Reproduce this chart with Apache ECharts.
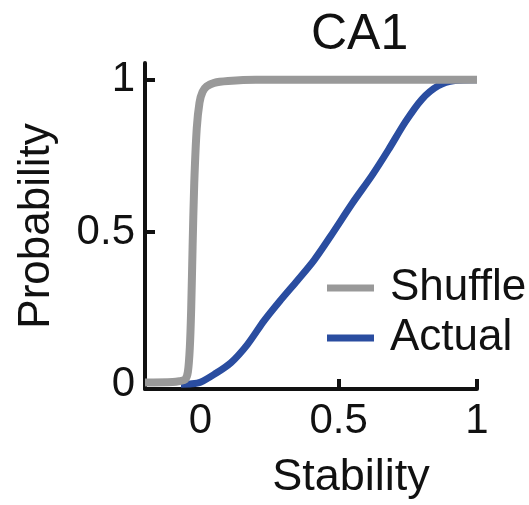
<!DOCTYPE html>
<html>
<head>
<meta charset="utf-8">
<script src="https://cdn.jsdelivr.net/npm/echarts@6/dist/echarts.min.js"></script>
<style>
  html, body {margin: 0; padding: 0; background: #fff;}
  #chart {width: 529px; height: 505px;}
</style>
</head>
<body>
<div id="chart"></div>
<script>
// CDF curves as [stability, probability]
const shuffleCurve = [
  [-0.2, 0.005], [-0.1, 0.007], [-0.075, 0.01], [-0.055, 0.015], [-0.045, 0.04],
  [-0.038, 0.12], [-0.033, 0.25], [-0.028, 0.45], [-0.022, 0.66], [-0.013, 0.84],
  [-0.003, 0.925], [0.008, 0.96], [0.023, 0.978], [0.05, 0.99], [0.1, 0.996],
  [0.2, 1.0], [0.5, 1.0], [1.0, 1.0]
]
const actualCurve = [
  [-0.07, 0.0], [-0.03, 0.001], [0.0, 0.006], [0.05, 0.032], [0.11, 0.07],
  [0.17, 0.13], [0.23, 0.208], [0.29, 0.276], [0.35, 0.34], [0.41, 0.406],
  [0.47, 0.485], [0.55, 0.595], [0.62, 0.685], [0.68, 0.77], [0.74, 0.86],
  [0.8, 0.935], [0.86, 0.98], [0.92, 0.997], [1.0, 1.0]
]
const seriesNames = ['Shuffle', 'Actual']
const xTickLabels = [0, 0.5, 1]
const yTickLabels = [0, 0.5, 1]
const tickMarks = [0.5, 1]

const font = 'Liberation Sans, Arial, sans-serif'
const ink = '#111'

const chart = echarts.init(document.getElementById('chart'))
chart.setOption({
  backgroundColor: '#fff',
  animation: false,
  title: {
    text: 'CA1',
    left: 306,
    top: 5,
    textStyle: {fontFamily: font, fontSize: 50, fontWeight: 'normal', color: ink}
  },
  legend: {
    data: seriesNames,
    orient: 'vertical',
    left: 322,
    top: 261,
    icon: 'rect',
    itemWidth: 47,
    itemHeight: 7,
    itemGap: 6,
    textStyle: {fontFamily: font, fontSize: 44, color: ink, padding: [0, 0, 0, 11]}
  },
  grid: {left: 145, right: 52, top: 63, bottom: 113},
  xAxis: {
    type: 'value',
    min: -0.2,
    max: 1,
    name: 'Stability',
    nameLocation: 'middle',
    nameGap: 66,
    nameTextStyle: {fontFamily: font, fontSize: 45, color: ink, padding: [0, 0, 0, 80]},
    axisLine: {show: true, onZero: false, lineStyle: {color: ink, width: 4}},
    axisTick: {show: true, inside: true, length: 10, customValues: tickMarks, lineStyle: {color: ink, width: 4}},
    axisLabel: {customValues: xTickLabels, margin: 11, fontFamily: font, fontSize: 42, color: ink},
    splitLine: {show: false}
  },
  yAxis: {
    type: 'value',
    min: -0.016,
    max: 1.055,
    name: 'Probability',
    nameLocation: 'middle',
    nameGap: 86,
    nameTextStyle: {fontFamily: font, fontSize: 44, color: ink},
    axisLine: {show: true, onZero: false, lineStyle: {color: ink, width: 4}},
    axisTick: {show: true, inside: true, length: 10, customValues: tickMarks, lineStyle: {color: ink, width: 4}},
    axisLabel: {customValues: yTickLabels, margin: 10, fontFamily: font, fontSize: 42, color: ink},
    splitLine: {show: false}
  },
  series: [
    {
      name: 'Actual',
      type: 'line',
      data: actualCurve,
      symbol: 'none',
      smooth: 0.3,
      color: '#2a4da0',
      lineStyle: {width: 7, color: '#2a4da0'}
    },
    {
      name: 'Shuffle',
      type: 'line',
      data: shuffleCurve,
      symbol: 'none',
      smooth: 0.3,
      color: '#999999',
      lineStyle: {width: 8, color: '#999999'}
    }
  ]
})
</script>
</body>
</html>
